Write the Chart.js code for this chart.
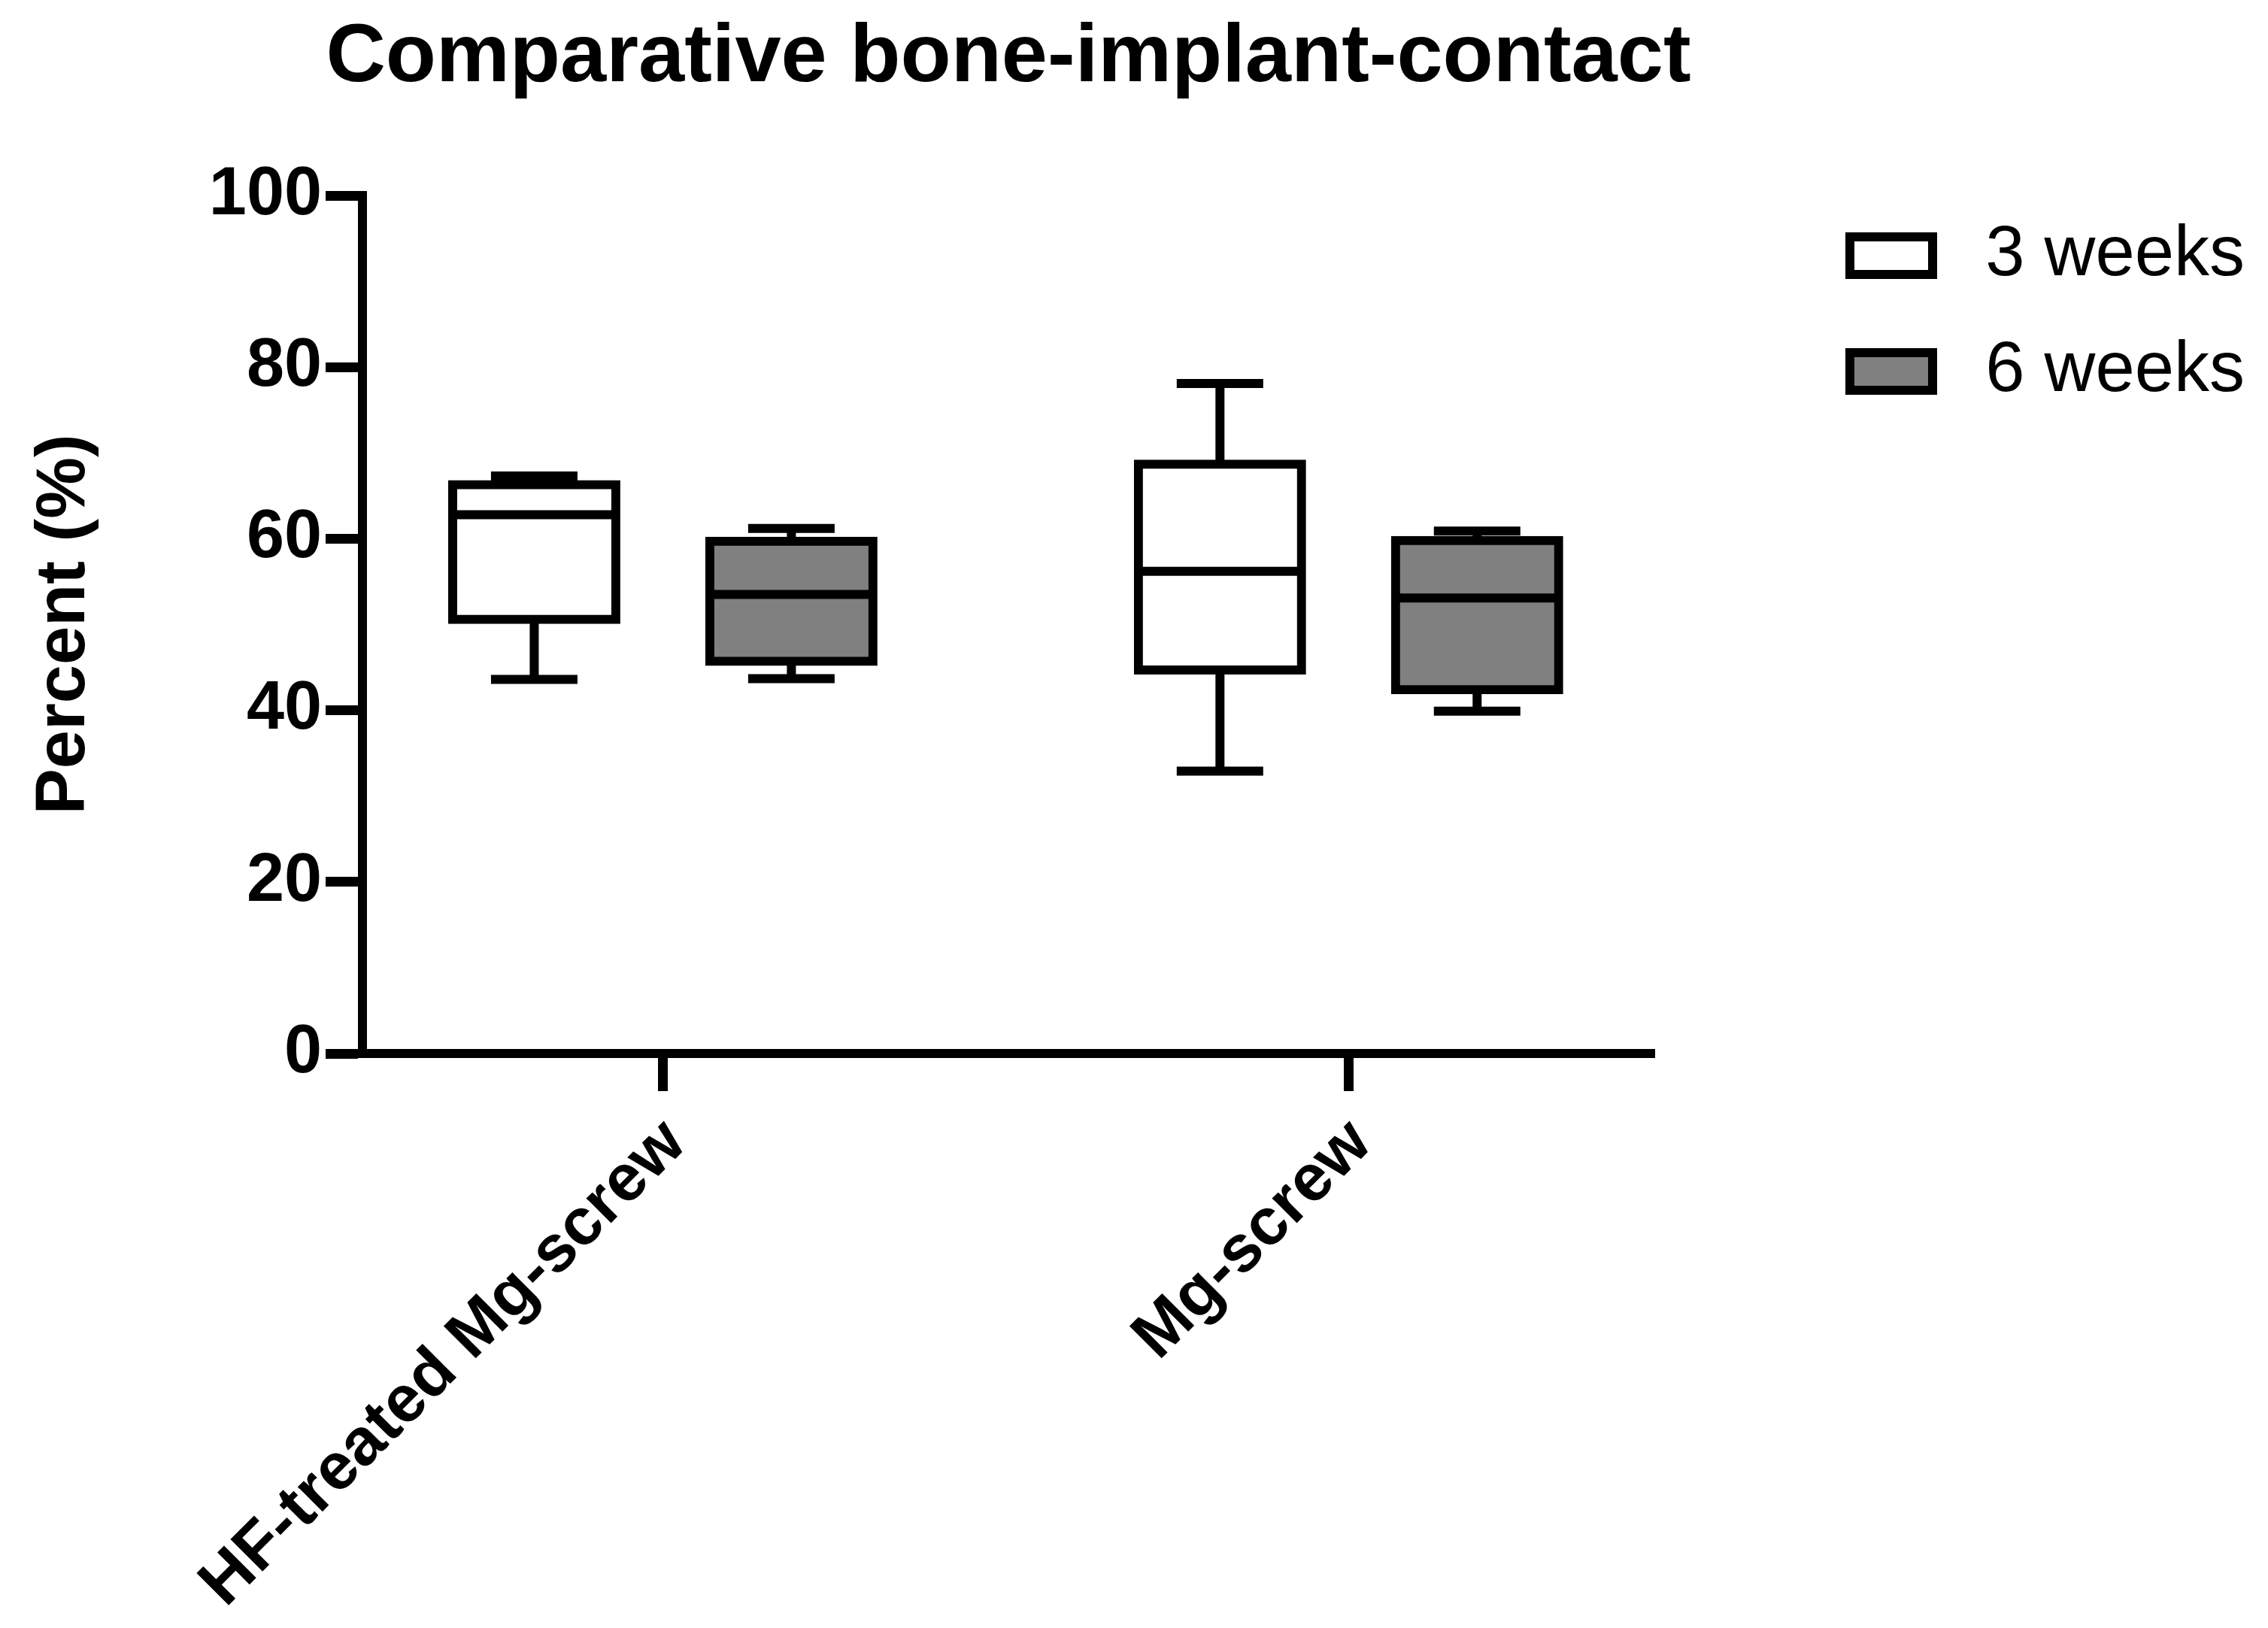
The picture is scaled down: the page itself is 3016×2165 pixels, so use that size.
<!DOCTYPE html>
<html>
<head>
<meta charset="utf-8">
<title>Comparative bone-implant-contact</title>
<script src="https://cdn.jsdelivr.net/npm/chart.js@4.4.1/dist/chart.umd.min.js"></script>
<style>
  html, body { margin: 0; padding: 0; background: #fff; }
  canvas { display: block; }
</style>
</head>
<body>
<canvas id="bicChart" width="3016" height="2165"></canvas>
<script>
// categories / series
const categories = ['HF-treated Mg-screw', 'Mg-screw'];
const seriesNames = ['3 weeks', '6 weeks'];
const yTicks = [0, 20, 40, 60, 80, 100];

// 3 weeks : min, Q1, median, Q3, max
const min3 = [43.6, 32.9];
const q1_3 = [50.6, 44.7];
const median3 = [62.8, 56.2];
const q3_3 = [66.3, 68.7];
const max3 = [67.3, 78.1];

// 6 weeks
const min6 = [43.7, 39.9];
const q1_6 = [45.7, 42.4];
const median6 = [53.5, 53.1];
const q3_6 = [59.7, 59.8];
const max6 = [61.2, 60.9];

const FONT = '"Liberation Sans", Arial, Helvetica, sans-serif';
const LINE = 12;

Chart.defaults.font.family = FONT;
Chart.defaults.color = '#000';

// legend width is text dependent, measure it so the plot keeps its right edge
const measureCtx = document.createElement('canvas').getContext('2d');
measureCtx.font = '94px ' + FONT;
const legendTextWidth = Math.max(...seriesNames.map((t) => measureCtx.measureText(t).width));
const legendWidth = 60 + 110 + 47 + legendTextWidth + 10;
const padRight = 3016 - 2200 - legendWidth;

const boxStats = [
  { min: min3, q1: q1_3, median: median3, q3: q3_3, max: max3 },
  { min: min6, q1: q1_6, median: median6, q3: q3_6, max: max6 },
];

// whiskers + median lines on top of the floating bars
const whiskerPlugin = {
  id: 'whiskers',
  afterDatasetsDraw(chart) {
    const { ctx } = chart;
    const yScale = chart.scales.y;
    const line = (x1, y1, x2, y2) => {
      ctx.beginPath();
      ctx.moveTo(x1, y1);
      ctx.lineTo(x2, y2);
      ctx.stroke();
    };
    ctx.save();
    ctx.strokeStyle = '#000';
    ctx.lineWidth = LINE;
    ctx.lineCap = 'butt';
    chart.data.datasets.forEach((ds, i) => {
      const stats = boxStats[i];
      chart.getDatasetMeta(i).data.forEach((bar, j) => {
        const { x, width } = bar.getProps(['x', 'width'], true);
        const half = width / 2;
        const cap = width * 0.265;
        const yMin = yScale.getPixelForValue(stats.min[j]);
        const yQ1 = yScale.getPixelForValue(stats.q1[j]);
        const yMed = yScale.getPixelForValue(stats.median[j]);
        const yQ3 = yScale.getPixelForValue(stats.q3[j]);
        const yMax = yScale.getPixelForValue(stats.max[j]);
        line(x - half, yMed, x + half, yMed);
        line(x, yQ3, x, yMax);
        line(x - cap, yMax, x + cap, yMax);
        line(x, yQ1, x, yMin);
        line(x - cap, yMin, x + cap, yMin);
      });
    });
    ctx.restore();
  },
};

// legend sits right of the plot, slightly above its top;
// title stays centred on the plot but may run wider than it
const layoutTweaks = {
  id: 'layoutTweaks',
  afterLayout(chart) {
    const area = chart.chartArea;
    const lg = chart.legend;
    lg.left = area.right + 200;
    lg.right = area.right + 785;
    lg.top = area.top - 27;
    const tb = chart.titleBlock;
    tb.left = area.left - 300;
    tb.right = area.right + 300;
    tb.width = tb.right - tb.left;
  },
};

const makeDataset = (i, fill) => ({
  label: seriesNames[i],
  data: categories.map((c, j) => ({ x: j, y: [boxStats[i].q1[j], boxStats[i].q3[j]] })),
  backgroundColor: fill,
  borderColor: '#000',
  borderWidth: LINE,
  borderSkipped: false,
  inflateAmount: LINE / 2,
  categoryPercentage: 0.75,
  barPercentage: 0.6345,
});

new Chart(document.getElementById('bicChart'), {
  type: 'bar',
  data: {
    datasets: [makeDataset(0, '#ffffff'), makeDataset(1, '#808080')],
  },
  options: {
    responsive: false,
    devicePixelRatio: 1,
    animation: false,
    events: [],
    layout: { padding: { left: 0, top: 0, right: padRight, bottom: 0 } },
    scales: {
      x: {
        type: 'linear',
        min: -0.438,
        max: 1.446,
        offset: false,
        afterBuildTicks: (scale) => {
          scale.ticks = categories.map((c, i) => ({ value: i }));
        },
        afterFit: (scale) => {
          scale.height = 764;
        },
        border: { display: true, width: LINE, color: '#000' },
        grid: { offset: false, drawOnChartArea: false, tickLength: 50, tickWidth: 13, tickColor: '#000' },
        ticks: {
          autoSkip: false,
          minRotation: 45,
          maxRotation: 45,
          padding: 18,
          labelOffset: 17,
          color: '#000',
          font: { size: 88, weight: 'bold' },
          callback: (value) => categories[value] ?? '',
        },
      },
      y: {
        min: 0,
        max: 100,
        afterBuildTicks: (scale) => {
          scale.ticks = yTicks.map((v) => ({ value: v }));
        },
        afterFit: (scale) => {
          scale.width = 482;
        },
        border: { display: true, width: LINE, color: '#000' },
        grid: { drawOnChartArea: false, tickLength: 49, tickWidth: 13, tickColor: '#000' },
        ticks: { padding: 5, color: '#000', font: { size: 90, weight: 'bold' } },
        title: {
          display: true,
          text: 'Percent (%)',
          color: '#000',
          font: { size: 92, weight: 'bold' },
          padding: { top: 31, bottom: 0 },
        },
      },
    },
    plugins: {
      title: {
        display: true,
        text: 'Comparative bone-implant-contact',
        fullSize: false,
        color: '#000',
        font: { size: 110, weight: 'bold' },
        padding: { top: 12, bottom: 116 },
      },
      legend: {
        position: 'right',
        align: 'start',
        labels: {
          boxWidth: 110,
          boxHeight: 50,
          padding: 60,
          color: '#000',
          textAlign: 'right',
          font: { size: 94 },
        },
      },
      tooltip: { enabled: false },
    },
  },
  plugins: [whiskerPlugin, layoutTweaks],
});
</script>
</body>
</html>
